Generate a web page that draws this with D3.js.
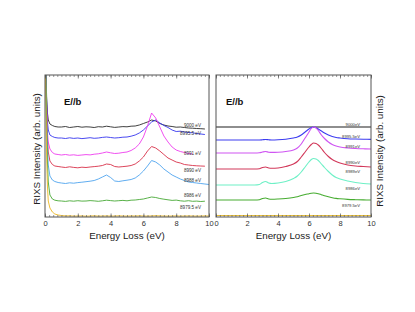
<!DOCTYPE html>
<html>
<head>
<meta charset="utf-8">
<script src="https://cdn.jsdelivr.net/npm/d3@7"></script>
<style>
  body { margin: 0; background: #fff; }
  svg { display: block; font-family: "Liberation Sans", Arial, sans-serif; }
</style>
</head>
<body>
<svg width="415" height="312"></svg>
<script>
// energy loss grids (eV)
var expEnergy = [0, 0.05, 0.1, 0.15, 0.2, 0.3, 0.45, 0.6, 0.8,
  1, 1.25, 1.5, 1.75, 2, 2.25, 2.5, 2.75, 3, 3.25, 3.5, 3.75, 4, 4.25, 4.5, 4.75,
  5, 5.25, 5.5, 5.75, 6, 6.25, 6.5, 6.75, 7, 7.25, 7.5, 7.75, 8, 8.25, 8.5, 8.75,
  9, 9.25, 9.5, 9.75, 10];
var calcEnergy = [0, 0.5, 1, 1.5, 2, 2.5, 2.8, 3.0, 3.2, 3.4, 3.6, 4, 4.5, 5, 5.25, 5.5,
  5.75, 6, 6.15, 6.3, 6.45, 6.6, 6.8, 7, 7.25, 7.5, 7.75, 8, 8.5, 9, 9.5, 10];

// incident energies
var expLabels = ["9000 eV", "8995.5 eV", "8991 eV", "8990 eV", "8988 eV", "8986 eV", "8979.5 eV"];
var calcLabels = ["9000eV", "8995.5eV", "8991eV", "8990eV", "8989eV", "8986eV", "8979.5eV"];

// measured spectra, offset stack (arb. units)
var exp9000 = [170, 150, 120, 104, 97, 93, 91.5, 90.5, 90,
  90, 90.5, 89.5, 90, 90.5, 89.8, 90.2, 90, 89.5, 90.3, 90, 90.8, 90.2, 89.6, 90, 90.4,
  90.2, 90.8, 91, 92, 93.5, 95, 97, 96, 93.5, 92, 91, 90.5, 89.8, 90, 89.5, 89,
  88.8, 88.5, 88.3, 88, null];
var exp8995 = [170, 150, 115, 95, 87, 82, 80.5, 79.5, 79,
  79, 78.5, 79.2, 78.6, 79, 78.4, 78.8, 79.3, 78.7, 79, 79.6, 80, 79.5, 79, 79.3, 79.8,
  80, 80.8, 82, 84, 87, 91, 95, 97, 94, 91.5, 89.5, 87, 85.5, 85.8, 85, 84.5,
  84.2, 83.5, 83, 82.5, null];
var exp8991 = [170, 150, 110, 85, 75, 68, 64.5, 63, 62.5,
  62, 62.5, 61.8, 62.2, 61.6, 62, 62.4, 62.1, 62.8, 63.2, 64, 65, 64.2, 63.5, 63.8, 64.5,
  65, 66.5, 69, 73, 80, 91, 104, 99, 90, 81, 75, 70, 67, 65.5, 64.5, 63.5,
  63, null, null, null, null];
var exp8990 = [170, 150, 105, 78, 65, 56, 52.5, 51, 50.5,
  50, 49.5, 50.2, 49.6, 49.2, 49.8, 49.5, 50, 50.4, 50.8, 51.5, 53, 52.5, 50.5, 50, 50.4,
  50.8, 51.5, 53, 56, 60, 66, 70.5, 69, 66, 62.5, 59, 57, 55, 54, 52.5, 52,
  51.5, 51.2, 51, 50.8, null];
var exp8988 = [170, 150, 100, 70, 52, 41, 37, 35.5, 34.5,
  34, 33.5, 34.2, 33.8, 34.4, 34.8, 35.3, 35.8, 36.5, 38, 40, 42, 39.5, 36, 35.5, 36.2,
  36.8, 37.5, 39, 42, 46, 51, 56.5, 55, 52, 48, 45, 42, 40, 38, 36.5, 35,
  34.5, 34, 33.5, 33, 32.5];
var exp8986 = [170, 150, 90, 55, 35, 22, 18, 16.8, 16.2,
  16, 15.6, 16.2, 15.8, 16.3, 15.9, 16, 16.4, 16.1, 15.7, 16.2, 16.8, 16.4, 16, 16.3, 16.6,
  16.2, 16.8, 17, 17.5, 18, 19, 20, 19.5, 18.5, 17.8, 17.2, 16.6, 16.9, 16.2, 15.8, 16.3,
  15.7, 15.9, 15.5, 15.8, null];
var exp8979 = [170, 120, 60, 30, 16, 9, 5, 3, 2,
  1.5, 1.1, 1.2, 0.9, 1, 1.1, 0.8, 1, 1.2, 0.9, 1, 1.1, 0.9, 1, 1.2, 1,
  0.9, 1.1, 1, 1.2, 1, 0.9, 1.1, 1.3, 1.1, 1, 0.9, 1, 1.1, 0.9, 1, 1.1,
  1, 0.9, 1, 1.1, 1];

// calculated spectra, offset stack (arb. units)
var calc9000 = [90, 90, 90, 90, 90, 90, 90, 90, 90, 90, 90, 90, 90, 90, 90, 90,
  90, 90, 90, 90, 90, 90, 90, 90, 90, 90, 90, 90, 90, 90, 90, 90];
var calc8995 = [77, 77, 77, 77, 77, 77, 77, 77.2, 77.5, 77.2, 77, 77.2, 77.8, 79, 80, 82,
  85, 88, 89.5, 90, 89.5, 88, 86, 84, 82, 80.5, 79.5, 79, 78.3, 78, 77.8, 77.6];
var calc8991 = [64, 64, 64, 64, 64, 64, 64.2, 65, 65.5, 64.8, 64.6, 64.8, 65.5, 67, 69, 73,
  79, 85, 88.5, 90, 89, 86.5, 82, 78.5, 75, 72.5, 71, 70, 69, 68.5, 68.2, 68];
var calc8990 = [48, 48, 48, 48, 48, 48, 48.3, 49.5, 50, 49, 48.8, 49, 50.5, 53, 55.5, 60,
  65, 70, 72.5, 74, 73.5, 72, 68.5, 64.5, 60.5, 57.5, 55.5, 54, 52, 51, 50.5, 50];
var calc8989 = [32, 32, 32, 32, 32, 32, 32.5, 34.5, 35.5, 34, 33.5, 34, 35.5, 38.5, 41, 45,
  50, 55, 57.5, 58.5, 58, 56.5, 53, 49.5, 45.5, 42, 39.5, 38, 36, 34.5, 33.5, 33];
var calc8986 = [17, 17, 17, 17, 17, 17, 17.3, 18.5, 19, 18, 17.8, 18, 18.5, 19.5, 20.3, 21.5,
  22.5, 23.3, 23.8, 24, 23.8, 23.3, 22.3, 21.3, 20.2, 19.3, 18.6, 18.2, 17.6, 17.3, 17.1, 17];
var calc8979 = [1.5, 1.5, 1.5, 1.5, 1.5, 1.5, 1.5, 1.5, 1.5, 1.5, 1.5, 1.5, 1.5, 1.5, 1.5, 1.5,
  1.5, 1.5, 1.5, 1.5, 1.5, 1.5, 1.5, 1.5, 1.5, 1.5, 1.5, 1.5, 1.5, 1.5, 1.5, 1.5];

var expSeries = [exp9000, exp8995, exp8991, exp8990, exp8988, exp8986, exp8979];
var calcSeries = [calc9000, calc8995, calc8991, calc8990, calc8989, calc8986, calc8979];

var expColors = ["#2a2a2a", "#3535ee", "#ee3cee", "#d83048", "#4ea4ee", "#46a834", "#ecb822"];
var calcColors = ["#1e1e1e", "#3c3cf0", "#cf55f2", "#d2385a", "#6ef0c6", "#46ac30", "#e8bf3c"];

// label layout (pixel centers)
var expLabelY = [125, 133, 153.5, 170, 180.5, 195, 207.5];
var calcLabelY = [124.5, 137, 147, 162.5, 172, 188.5, 206];

var svg = d3.select("svg");
var yTop = 75, yBot = 217;
var y = d3.scaleLinear([0, 142], [yBot, yTop]);

var panels = [
  { id: "L", x: d3.scaleLinear([0, 10], [45, 209]), energy: expEnergy, series: expSeries,
    colors: expColors, labels: expLabels, labelY: expLabelY, labelX: 201, fs: 4.6,
    curve: d3.curveLinear, sw: 0.9 },
  { id: "R", x: d3.scaleLinear([0, 10], [216, 371]), energy: calcEnergy, series: calcSeries,
    colors: calcColors, labels: calcLabels, labelY: calcLabelY, labelX: 360, fs: 4.2,
    curve: d3.curveMonotoneX, sw: 1.1 }
];

panels.forEach(function (p) {
  var x0 = p.x.range()[0], x1 = p.x.range()[1];

  svg.append("clipPath").attr("id", "clip" + p.id)
    .append("rect").attr("x", x0).attr("y", yTop).attr("width", x1 - x0).attr("height", yBot - yTop);

  var g = svg.append("g").attr("clip-path", "url(#clip" + p.id + ")");
  var line = d3.line()
    .defined(function (d) { return d[1] != null; })
    .x(function (d) { return p.x(d[0]); })
    .y(function (d) { return y(d[1]); })
    .curve(p.curve);

  p.series.forEach(function (s, i) {
    var pts = p.energy.map(function (e, j) { return [e, s[j]]; });
    g.append("path")
      .attr("d", line(pts))
      .attr("fill", "none")
      .attr("stroke", p.colors[i])
      .attr("stroke-width", p.sw)
      .attr("stroke-linejoin", "round");
  });

  // curve labels
  svg.append("g").selectAll("text").data(p.labels).join("text")
    .attr("x", p.labelX)
    .attr("y", function (d, i) { return p.labelY[i] + p.fs * 0.35; })
    .attr("text-anchor", "end")
    .attr("font-size", p.fs)
    .attr("fill", "#333")
    .text(function (d) { return d; });

  // ticks: minor every 0.25, major every 2 (inward, top and bottom)
  var minor = d3.range(0, 10.001, 0.25);
  svg.append("g").attr("transform", "translate(0," + yBot + ")")
    .call(d3.axisBottom(p.x).tickValues(minor).tickSize(-2).tickFormat("").tickSizeOuter(0))
    .call(function (a) { a.select(".domain").remove(); a.selectAll("line").attr("stroke", "#555").attr("stroke-width", 0.6); });
  svg.append("g").attr("transform", "translate(0," + yTop + ")")
    .call(d3.axisTop(p.x).tickValues(minor).tickSize(-2).tickFormat("").tickSizeOuter(0))
    .call(function (a) { a.select(".domain").remove(); a.selectAll("line").attr("stroke", "#555").attr("stroke-width", 0.6); });

  var xAxis = svg.append("g").attr("transform", "translate(0," + yBot + ")")
    .call(d3.axisBottom(p.x).tickValues([0, 2, 4, 6, 8, 10]).tickSize(-3.5).tickPadding(4).tickSizeOuter(0));
  xAxis.select(".domain").remove();
  xAxis.selectAll("line").attr("stroke", "#555").attr("stroke-width", 0.7);
  xAxis.selectAll("text").attr("font-size", 7.5).attr("fill", "#333")
    .attr("font-family", "'Liberation Sans', Arial, sans-serif");

  svg.append("g").attr("transform", "translate(0," + yTop + ")")
    .call(d3.axisTop(p.x).tickValues([0, 2, 4, 6, 8, 10]).tickSize(-3.5).tickFormat("").tickSizeOuter(0))
    .call(function (a) { a.select(".domain").remove(); a.selectAll("line").attr("stroke", "#555").attr("stroke-width", 0.7); });

  // frame
  svg.append("rect")
    .attr("x", x0).attr("y", yTop).attr("width", x1 - x0).attr("height", yBot - yTop)
    .attr("fill", "none").attr("stroke", "#555").attr("stroke-width", 1);

  // titles
  svg.append("text")
    .attr("x", (x0 + x1) / 2).attr("y", 239)
    .attr("text-anchor", "middle").attr("font-size", 9.8).attr("fill", "#222")
    .text("Energy Loss (eV)");

  svg.append("text")
    .attr("x", x0 + (p.id === "L" ? 19 : 10)).attr("y", 105)
    .attr("font-size", 9.5).attr("font-weight", "bold").attr("fill", "#111")
    .text("E//b");
});

// y axis titles
svg.append("text")
  .attr("transform", "translate(40,149) rotate(-90)")
  .attr("text-anchor", "middle").attr("font-size", 9.8).attr("fill", "#222")
  .text("RIXS Intensity (arb. units)");
svg.append("text")
  .attr("transform", "translate(383,151) rotate(-90)")
  .attr("text-anchor", "middle").attr("font-size", 9.8).attr("fill", "#222")
  .text("RIXS Intensity (arb. units)");
</script>
</body>
</html>
